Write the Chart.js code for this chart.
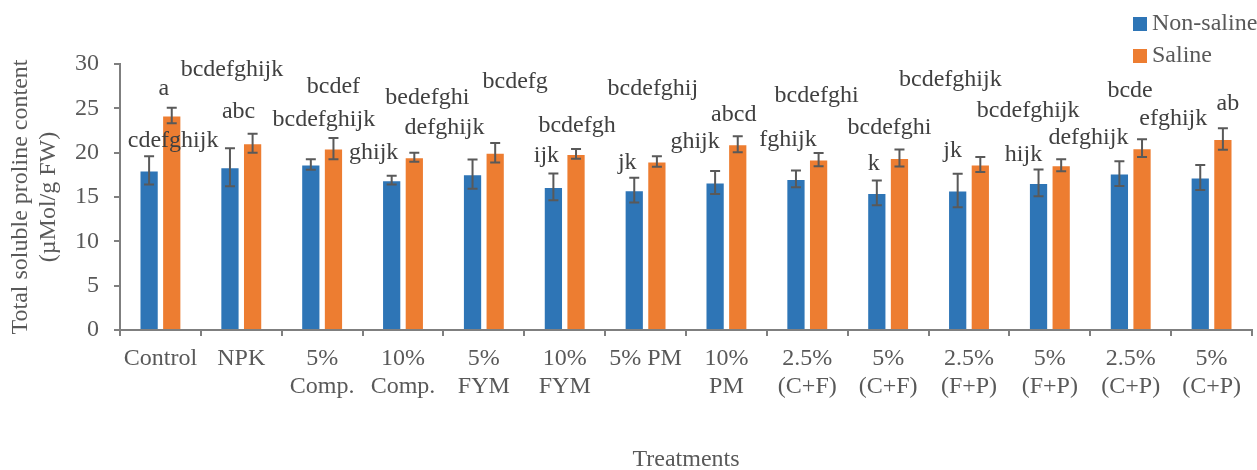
<!DOCTYPE html>
<html>
<head>
<meta charset="utf-8">
<script src="https://cdn.jsdelivr.net/npm/chart.js@4.4.1/dist/chart.umd.min.js"></script>
<style>
  html, body { margin: 0; padding: 0; background: #fff; }
  #wrap { width: 1257px; height: 470px; }
</style>
</head>
<body>
<div id="wrap"><canvas id="chart" width="1257" height="470"></canvas></div>
<script>
// Treatments (x axis categories)
const treatments = [
  ['Control'], ['NPK'], ['5%', 'Comp.'], ['10%', 'Comp.'], ['5%', 'FYM'], ['10%', 'FYM'],
  ['5% PM'], ['10%', 'PM'], ['2.5%', '(C+F)'], ['5%', '(C+F)'], ['2.5%', '(F+P)'],
  ['5%', '(F+P)'], ['2.5%', '(C+P)'], ['5%', '(C+P)']
];

// Proline content, µMol/g FW
const nonSaline = [18.0, 18.35, 18.66, 16.9, 17.57, 16.14, 15.77, 16.63, 17.04, 15.46, 15.73, 16.59, 17.64, 17.2];
const nonSalineErr = [1.6, 2.15, 0.6, 0.5, 1.65, 1.5, 1.4, 1.3, 0.95, 1.4, 1.9, 1.5, 1.4, 1.4];
const saline = [24.2, 21.06, 20.46, 19.48, 20.0, 19.85, 19.0, 20.95, 19.22, 19.4, 18.66, 18.58, 20.5, 21.54];
const salineErr = [0.87, 1.07, 1.2, 0.5, 1.1, 0.55, 0.6, 0.9, 0.75, 0.95, 0.85, 0.68, 1.0, 1.2];

// Significance letters
const nonSalineLetters = ['cdefghijk', 'bcdefghijk', 'bcdefghijk', 'ghijk', 'defghijk', 'ijk', 'jk',
  'ghijk', 'fghijk', 'k', 'jk', 'hijk', 'defghijk', 'efghijk'];
const salineLetters = ['a', 'abc', 'bcdef', 'bedefghi', 'bcdefg', 'bcdefgh', 'bcdefghij',
  'abcd', 'bcdefghi', 'bcdefghi', 'bcdefghijk', 'bcdefghijk', 'bcde', 'ab'];

const yTicks = [0, 5, 10, 15, 20, 25, 30];

// where each letter label sits: [x shift from bar centre in px, baseline as axis value]
const nonSalineLabelPos = [[24, 20.6], [2, 28.7], [13, 23.0], [-18, 19.3], [-28, 22.1], [-7, 18.95], [-7, 18.2],
  [-20, 20.5], [-8, 20.8], [-3, 18.0], [-5, 19.5], [-15, 19.1], [-31, 20.95], [-27, 23.1]];
const salineLabelPos = [[-8, 26.5], [-14, 23.95], [0, 26.7], [13, 25.5], [20, 27.3], [1, 22.3], [-4, 26.5],
  [-4, 23.6], [-2, 25.7], [-10, 22.15], [-30, 27.5], [-33, 24.0], [-12, 26.3], [5, 24.85]];

const FONT = 'Liberation Serif, Times New Roman, serif';
const TEXT = '#595959';
const AXIS = '#7f7f7f';

const extras = {
  id: 'extras',
  afterDatasetsDraw(chart) {
    const { ctx } = chart;
    const y = chart.scales.y;
    const errs = [nonSalineErr, salineErr];
    const letters = [nonSalineLetters, salineLetters];
    const pos = [nonSalineLabelPos, salineLabelPos];

    ctx.save();
    // error bars
    ctx.strokeStyle = '#595959';
    ctx.lineWidth = 2;
    chart.data.datasets.forEach((ds, d) => {
      chart.getDatasetMeta(d).data.forEach((bar, i) => {
        const v = ds.data[i];
        const top = y.getPixelForValue(v + errs[d][i]);
        const bot = y.getPixelForValue(v - errs[d][i]);
        ctx.beginPath();
        ctx.moveTo(bar.x, top); ctx.lineTo(bar.x, bot);
        ctx.moveTo(bar.x - 5, top); ctx.lineTo(bar.x + 5, top);
        ctx.moveTo(bar.x - 5, bot); ctx.lineTo(bar.x + 5, bot);
        ctx.stroke();
      });
    });

    // letters
    ctx.font = '24px ' + FONT;
    ctx.fillStyle = '#404040';
    ctx.textAlign = 'center';
    ctx.textBaseline = 'alphabetic';
    chart.data.datasets.forEach((ds, d) => {
      chart.getDatasetMeta(d).data.forEach((bar, i) => {
        const [dx, yv] = pos[d][i];
        ctx.fillText(letters[d][i], bar.x + dx, y.getPixelForValue(yv));
      });
    });

    // legend, top right
    ctx.textAlign = 'left';
    chart.data.datasets.forEach((ds, d) => {
      const rowY = 30 + d * 32;
      ctx.fillStyle = ds.backgroundColor;
      ctx.fillRect(1133, rowY - 13, 14, 14);
      ctx.fillStyle = TEXT;
      ctx.fillText(ds.label, 1152, rowY);
    });
    ctx.restore();
  }
};

new Chart(document.getElementById('chart'), {
  type: 'bar',
  data: {
    labels: treatments,
    datasets: [
      {
        label: 'Non-saline',
        data: nonSaline,
        backgroundColor: '#2E75B6',
        borderColor: 'rgba(255,255,255,0.5)',
        borderWidth: 1
      },
      {
        label: 'Saline',
        data: saline,
        backgroundColor: '#ED7D31',
        borderColor: 'rgba(255,255,255,0.5)',
        borderWidth: 1
      }
    ]
  },
  options: {
    responsive: false,
    animation: false,
    categoryPercentage: 0.56,
    barPercentage: 0.85,
    layout: { padding: { top: 64, right: 5, left: 0, bottom: 0 } },
    plugins: {
      legend: { display: false },
      tooltip: { enabled: false }
    },
    scales: {
      x: {
        afterFit: (scale) => { scale.height = 140; },
        grid: { drawOnChartArea: false, drawTicks: true, tickLength: 6, color: AXIS, lineWidth: 2 },
        border: { color: AXIS, width: 2 },
        ticks: {
          color: TEXT,
          font: { family: FONT, size: 24 },
          padding: 8,
          maxRotation: 0,
          autoSkip: false
        },
        title: {
          display: true,
          text: 'Treatments',
          color: TEXT,
          font: { family: FONT, size: 24 },
          padding: { top: 0, bottom: -4 }
        }
      },
      y: {
        min: 0,
        max: 30,
        afterFit: (scale) => { scale.width = 120; },
        afterBuildTicks: (scale) => { scale.ticks = yTicks.map(v => ({ value: v })); },
        grid: { drawOnChartArea: false, drawTicks: true, tickLength: 6, color: AXIS, lineWidth: 2 },
        border: { color: AXIS, width: 2 },
        ticks: {
          color: TEXT,
          font: { family: FONT, size: 24 },
          padding: 15
        },
        title: {
          display: true,
          text: ['Total soluble proline content', '(µMol/g FW)'],
          color: TEXT,
          font: { family: FONT, size: 24 },
          padding: { top: 6, bottom: 0 }
        }
      }
    }
  },
  plugins: [extras]
});
</script>
</body>
</html>
